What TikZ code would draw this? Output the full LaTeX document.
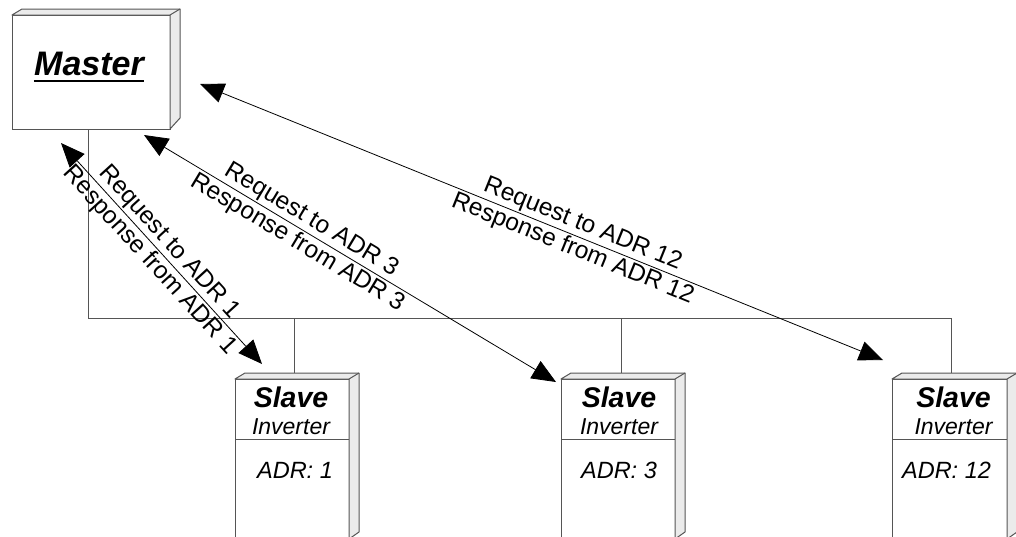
\documentclass[tikz,border=0pt]{standalone}
\usepackage{fontspec}
\setmainfont{Liberation Sans}
\usetikzlibrary{arrows.meta,calc}
\definecolor{edgegray}{HTML}{555555}
\definecolor{facegray}{HTML}{EBEBEB}
\tikzset{
 boxline/.style={draw=edgegray, line width=1pt},
 front/.style={boxline, fill=white, inner sep=0pt, outer sep=0pt, anchor=north west},
 face/.style={boxline, fill=facegray, line join=round},
 bus/.style={draw=edgegray, line width=1pt},
 arr/.style={draw=black, line width=0.8pt, {Triangle[length=24pt,width=20pt]}-{Triangle[length=24pt,width=20pt]}},
 lbl/.style={font=\fontsize{24.5}{27}\selectfont, sloped, inner sep=1.5pt},
 mastert/.style={font=\bfseries\itshape\fontsize{34}{38}\selectfont, anchor=base, inner sep=0pt},
 slavet/.style={font=\bfseries\itshape\fontsize{28.5}{31}\selectfont, anchor=base, inner sep=0pt},
 invt/.style={font=\itshape\fontsize{23}{25}\selectfont, anchor=base, inner sep=0pt},
 adrt/.style={font=\itshape\fontsize{23.5}{26}\selectfont, anchor=base, inner sep=0pt},
}
\newcommand\depthfaces[2]{%
 \filldraw[face] (#1.north west) -- ++(10,-6) -- ($(#1.north east)+(10,-6)$) -- ($(#1.south east)+(10,-#2)$) -- (#1.south east) -- (#1.north east) -- cycle;
 \draw[boxline] (#1.north east) -- ++(10,-6);
}
\begin{document}
\begin{tikzpicture}[x=1pt,y=-1pt]
\useasboundingbox (0,0) rectangle (1016,536);
\clip (0,0) rectangle (1016,536);
\fill[white] (0,0) rectangle (1016,536);

% boxes
\node[front, minimum width=158pt, minimum height=114pt] (master) at (12,15) {};
\node[front, minimum width=114pt, minimum height=160pt] (s1) at (235,379) {};
\node[front, minimum width=114pt, minimum height=160pt] (s2) at (561,379) {};
\node[front, minimum width=115pt, minimum height=160pt] (s3) at (892,379) {};

% bus
\coordinate (busy) at (0,318);
\coordinate (mb) at ([xshift=-3pt]master.south);
\coordinate (t1) at ([xshift=2pt,yshift=6pt]s1.north);
\coordinate (t2) at ([xshift=3pt,yshift=6pt]s2.north);
\coordinate (t3) at ([xshift=2pt,yshift=6pt]s3.north);
\draw[bus] (mb) -- (mb |- busy) -| (t3);
\draw[bus] (t1 |- busy) -- (t1);
\draw[bus] (t2 |- busy) -- (t2);

\depthfaces{master}{11}
\depthfaces{s1}{7}
\depthfaces{s2}{7}
\depthfaces{s3}{7}

% master text
\node[mastert] (mtext) at (89,75) {Master};
\draw[line width=2pt] ([yshift=-6pt]mtext.base west) -- ([yshift=-6pt]mtext.base east);

% slave contents
\foreach \s/\a/\dx/\dy in {s1/1/-1/3, s2/3/1/1, s3/12/4/-3}{
 \draw[boxline] ($(\s.north west)+(0,60)$) -- ($(\s.north east)+(0,60)$);
 \node[slavet] (\s-title) at ($(\s.north)+(\dx,28)$) {Slave};
 \node[invt] (\s-inv) at ($(\s.north)+(\dx,55)$) {Inverter};
 \node[adrt] (\s-adr) at ($(\s.north)+(\dy,99)$) {ADR: \a};
}

% arrows
\coordinate (m1) at (61,143);
\coordinate (e1) at (262,364);
\coordinate (m2) at (144,135);
\coordinate (e2) at (556,382);
\coordinate (m3) at (200,84);
\coordinate (e3) at (883,360);
\draw[arr] (m1) -- (e1)
  node[lbl, pos=0.49, above] (r1) {Request to ADR 1}
  node[lbl, pos=0.49, below] (p1) {Response from ADR 1};
\draw[arr] (m2) -- (e2)
  node[lbl, pos=0.39, above] (r2) {Request to ADR 3}
  node[lbl, pos=0.39, below] (p2) {Response from ADR 3};
\draw[arr] (m3) -- (e3)
  node[lbl, pos=0.553, above] (r3) {Request to ADR 12}
  node[lbl, pos=0.553, below] (p3) {Response from ADR 12};
\end{tikzpicture}
\end{document}
